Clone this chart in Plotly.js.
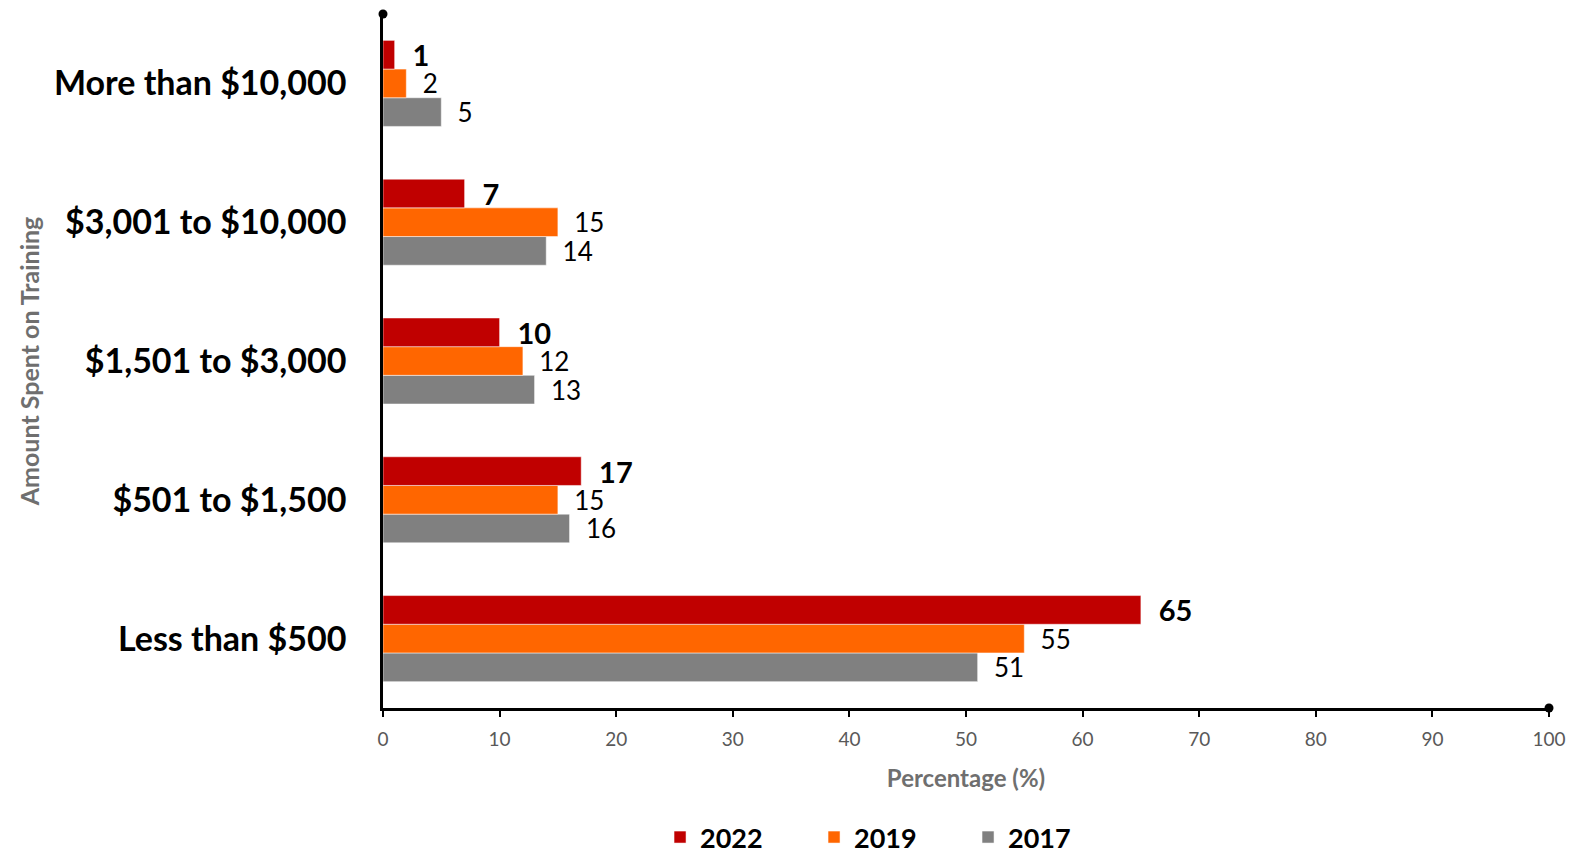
<!DOCTYPE html>
<html>
<head>
<meta charset="utf-8">
<script src="https://cdn.plot.ly/plotly-3.0.1.min.js"></script>
<style>html,body{margin:0;padding:0;background:#fff;}#chart{width:1589px;height:862px;}</style>
</head>
<body>
<div id="chart"></div>
<script>
const categories = ["Less than $500", "$501 to $1,500", "$1,501 to $3,000", "$3,001 to $10,000", "More than $10,000"];
const values2022 = [65, 17, 10, 7, 1];
const values2019 = [55, 15, 12, 15, 2];
const values2017 = [51, 16, 13, 14, 5];
const xTicks = [0, 10, 20, 30, 40, 50, 60, 70, 80, 90, 100];

const FONT = "Lato, 'Open Sans', sans-serif";

function barTrace(name, vals, color, bold) {
  return {
    type: 'bar', orientation: 'h', name: name,
    y: categories, x: vals,
    marker: {color: color, line: {color: 'rgba(255,255,255,0.5)', width: 1}},
    text: vals.map(String),
    texttemplate: bold ? '  <b>%{x}</b>' : '  %{x}',
    textposition: 'outside',
    constraintext: 'none',
    cliponaxis: false,
    textfont: {family: FONT, size: bold ? 29 : 26, color: '#000'},
    hoverinfo: 'x+name'
  };
}

const data = [
  barTrace('2017', values2017, '#808080', false),
  barTrace('2019', values2019, '#FF6600', false),
  barTrace('2022', values2022, '#C00000', true)
];

const layout = {
  width: 1589, height: 862,
  margin: {l: 383, r: 40, t: 14, b: 154, autoexpand: false},
  paper_bgcolor: '#fff', plot_bgcolor: '#fff',
  font: {family: FONT},
  barmode: 'group',
  bargap: 0.38,
  bargroupgap: 0,
  showlegend: true,
  legend: {
    orientation: 'h', traceorder: 'reversed',
    x: 0.2376, xanchor: 'left', xref: 'paper',
    y: 0, yanchor: 'bottom', yref: 'container',
    borderwidth: 0,
    font: {family: FONT, size: 27, color: '#000', weight: 'bold'},
    entrywidth: 109, entrywidthmode: 'pixels'
  },
  xaxis: {
    range: [0, 100], tickvals: xTicks, ticktext: xTicks.map(String),
    showgrid: false, zeroline: false,
    showline: true, linecolor: '#000', linewidth: 2.5,
    ticks: 'outside', ticklen: 6, tickcolor: '#000', tickwidth: 2,
    ticklabelstandoff: 6,
    tickfont: {family: FONT, size: 19, color: '#595959'},
    title: {text: 'Percentage (%)', font: {family: FONT, size: 24, color: '#6f6f6f', weight: 'bold'}, standoff: 22},
    fixedrange: true
  },
  yaxis: {
    type: 'category', range: [-0.5, 4.5],
    showgrid: false, zeroline: false,
    showline: true, linecolor: '#000', linewidth: 2.5,
    ticks: '', ticklabelstandoff: 27,
    tickfont: {family: FONT, size: 34, color: '#000', weight: 'bold'},
    title: {text: 'Amount Spent on Training', font: {family: FONT, size: 25, color: '#6f6f6f', weight: 'bold'}, standoff: 8},
    fixedrange: true
  },
  shapes: [
    {type: 'circle', xref: 'paper', yref: 'paper', xsizemode: 'pixel', ysizemode: 'pixel',
     xanchor: 0, yanchor: 1, x0: -4.5, x1: 4.5, y0: -4.5, y1: 4.5,
     fillcolor: '#000', line: {width: 0}},
    {type: 'circle', xref: 'paper', yref: 'paper', xsizemode: 'pixel', ysizemode: 'pixel',
     xanchor: 1, yanchor: 0, x0: -4.5, x1: 4.5, y0: -4.5, y1: 4.5,
     fillcolor: '#000', line: {width: 0}}
  ]
};

Plotly.newPlot('chart', data, layout, {displayModeBar: false});
</script>
</body>
</html>
